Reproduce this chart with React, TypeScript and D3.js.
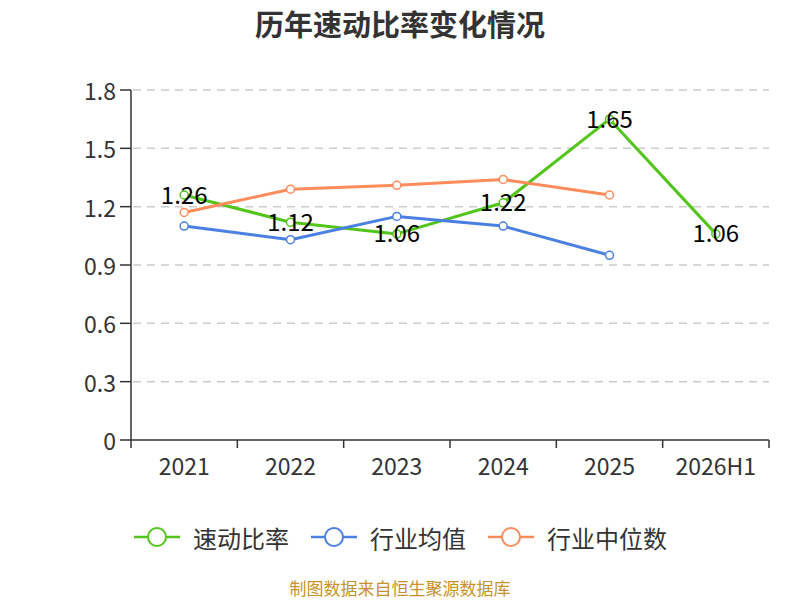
import React, { useEffect, useRef } from 'react';
import * as d3 from 'd3';

const categories = ['2021', '2022', '2023', '2024', '2025', '2026H1'];
const quickRatio = [1.26, 1.12, 1.06, 1.22, 1.65, 1.06];
const industryAvg = [1.1, 1.03, 1.15, 1.1, 0.95];
const industryMedian = [1.17, 1.29, 1.31, 1.34, 1.26];
const yTicks = [0, 0.3, 0.6, 0.9, 1.2, 1.5, 1.8];

const series = [
  { name: '速动比率', color: '#52c41a', values: quickRatio },
  { name: '行业均值', color: '#4a80e2', values: industryAvg },
  { name: '行业中位数', color: '#ff8c5a', values: industryMedian },
];

const W = 800;
const H = 600;
const FONT = '"Microsoft YaHei", "Noto Sans CJK SC", "Noto Sans", sans-serif';

export default function App() {
  const svgRef = useRef<SVGSVGElement | null>(null);

  useEffect(() => {
    if (!svgRef.current) return;
    const svg = d3.select(svgRef.current);
    svg.selectAll('*').remove();

    const left = 131, right = 769, top = 90, bottom = 440;

    const x = d3.scaleBand<string>().domain(categories).range([left, right]);
    const y = d3.scaleLinear().domain([0, 1.8]).range([bottom, top]);
    const cx = (c: string) => (x(c) || 0) + x.bandwidth() / 2;

    // title
    svg.append('text')
      .attr('x', W / 2).attr('y', 23)
      .attr('text-anchor', 'middle').attr('dominant-baseline', 'central')
      .attr('font-size', 29).attr('font-weight', 'bold')
      .attr('fill', '#333').attr('font-family', FONT)
      .text('历年速动比率变化情况');

    // grid
    svg.append('g').selectAll('line')
      .data(yTicks.filter((t) => t > 0))
      .enter().append('line')
      .attr('x1', left + 2).attr('x2', right)
      .attr('y1', (d) => y(d)).attr('y2', (d) => y(d))
      .attr('stroke', '#ccc').attr('stroke-width', 1.5)
      .attr('stroke-dasharray', '8,6');

    // y axis
    const yAxis = svg.append('g');
    yAxis.append('line')
      .attr('x1', left).attr('x2', left).attr('y1', top).attr('y2', bottom)
      .attr('stroke', '#333').attr('stroke-width', 1.5);
    yAxis.selectAll('line.tick').data(yTicks).enter().append('line')
      .attr('class', 'tick')
      .attr('x1', left - 11).attr('x2', left)
      .attr('y1', (d) => y(d)).attr('y2', (d) => y(d))
      .attr('stroke', '#333').attr('stroke-width', 1.5);
    yAxis.selectAll('text').data(yTicks).enter().append('text')
      .attr('x', left - 15).attr('y', (d) => y(d))
      .attr('text-anchor', 'end').attr('dominant-baseline', 'central')
      .attr('font-size', 23).attr('fill', '#333').attr('font-family', FONT)
      .text((d) => String(d));

    // x axis
    const xAxis = svg.append('g');
    xAxis.append('line')
      .attr('x1', left).attr('x2', right).attr('y1', bottom).attr('y2', bottom)
      .attr('stroke', '#333').attr('stroke-width', 1.5);
    const bounds = categories.map((c) => x(c) || 0).concat([right]);
    xAxis.selectAll('line.tick').data(bounds).enter().append('line')
      .attr('class', 'tick')
      .attr('x1', (d) => d).attr('x2', (d) => d)
      .attr('y1', bottom).attr('y2', bottom + 8)
      .attr('stroke', '#333').attr('stroke-width', 1.5);
    xAxis.selectAll('text').data(categories).enter().append('text')
      .attr('x', (d) => cx(d)).attr('y', bottom + 25)
      .attr('text-anchor', 'middle').attr('dominant-baseline', 'central')
      .attr('font-size', 23).attr('fill', '#333').attr('font-family', FONT)
      .text((d) => d);

    const line = d3.line<[string, number]>()
      .x((d) => cx(d[0]))
      .y((d) => y(d[1]));

    series.forEach((s) => {
      const pts: [string, number][] = s.values.map((v, i) => [categories[i], v]);
      const g = svg.append('g');
      g.append('path')
        .attr('d', line(pts) || '')
        .attr('fill', 'none').attr('stroke', s.color)
        .attr('stroke-width', 3).attr('stroke-linejoin', 'round');
      g.selectAll('circle').data(pts).enter().append('circle')
        .attr('cx', (d) => cx(d[0])).attr('cy', (d) => y(d[1]))
        .attr('r', 4).attr('fill', '#fff')
        .attr('stroke', s.color).attr('stroke-width', 1.5);
    });

    // labels for main series
    svg.append('g').selectAll('text')
      .data(quickRatio.map((v, i) => [categories[i], v] as [string, number]))
      .enter().append('text')
      .attr('x', (d) => cx(d[0])).attr('y', (d) => y(d[1]) - 2)
      .attr('text-anchor', 'middle').attr('dominant-baseline', 'central')
      .attr('font-size', 24).attr('fill', '#000').attr('font-family', FONT)
      .text((d) => d[1].toFixed(2));

    // legend
    const legendItems = [
      { s: series[0], x0: 134 },
      { s: series[1], x0: 311 },
      { s: series[2], x0: 488 },
    ];
    const ly = 537;
    legendItems.forEach(({ s, x0 }) => {
      const g = svg.append('g');
      g.append('line')
        .attr('x1', x0).attr('x2', x0 + 46).attr('y1', ly).attr('y2', ly)
        .attr('stroke', s.color).attr('stroke-width', 2.5);
      g.append('circle')
        .attr('cx', x0 + 23).attr('cy', ly).attr('r', 9)
        .attr('fill', '#fff').attr('stroke', s.color).attr('stroke-width', 2);
      g.append('text')
        .attr('x', x0 + 59).attr('y', ly)
        .attr('dominant-baseline', 'central')
        .attr('font-size', 24).attr('fill', '#333').attr('font-family', FONT)
        .text(s.name);
    });

    // source
    svg.append('text')
      .attr('x', W / 2).attr('y', 587)
      .attr('text-anchor', 'middle').attr('dominant-baseline', 'central')
      .attr('font-size', 17).attr('fill', '#c8922a').attr('font-family', FONT)
      .text('制图数据来自恒生聚源数据库');
  }, []);

  return (
    <svg ref={svgRef} width={W} height={H} viewBox={`0 0 ${W} ${H}`}
      style={{ position: 'absolute', left: 0, top: 0, background: '#fff' }} />
  );
}
